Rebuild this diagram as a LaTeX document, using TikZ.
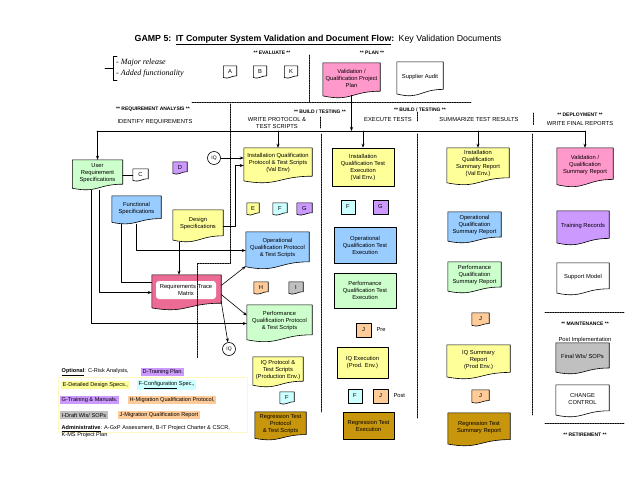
\documentclass[tikz,border=0pt]{standalone}
\usepackage{fontspec}
\setmainfont{Liberation Sans}
\newfontfamily\relfont{Liberation Serif}
\usetikzlibrary{calc,positioning,arrows.meta}

\definecolor{reqgreen}{HTML}{CCFFCC}
\definecolor{iqyellow}{HTML}{FFFF99}
\definecolor{oqblue}{HTML}{99CCFF}
\definecolor{planpink}{HTML}{FF99CC}
\definecolor{tracepink}{HTML}{EC6B94}
\definecolor{trainpurple}{HTML}{CC99FF}
\definecolor{cfgcyan}{HTML}{CCFFFF}
\definecolor{migorange}{HTML}{FFCC99}
\definecolor{draftgray}{HTML}{C0C0C0}
\definecolor{regbrown}{HTML}{C8960C}
\definecolor{keyframe}{HTML}{FFF8C0}

% document shape with a wavy bottom: name, centre, width, height, fill, text
\newcommand{\wavedoc}[6]{%
  \node[docframe, minimum width=#3pt, minimum height=#4pt] (#1) at (#2) {};
  \filldraw[fill=#5, docline] (#1.north west) -- (#1.north east)
    -- ($(#1.south east)+(0,-0.2*#4)$)
    .. controls ($(#1.south)+(0,-0.2*#4)$) and ($(#1.south)+(0,0.107*#4)$) .. ($(#1.south west)+(0,-0.066*#4)$)
    -- cycle;
  \node[doctext] (#1-txt) at ($(#1.center)+(0,-0.07*#4)$) {#6};
}

\begin{document}
\begin{tikzpicture}[
  x=1pt, y=-1pt,
  line cap=round, line join=round,
  >={Stealth[length=4pt,width=3pt]},
  every node/.style={font=\fontsize{5.8}{7}\selectfont, inner sep=1pt},
  docframe/.style={rectangle, draw=none, inner sep=0pt},
  docline/.style={draw=black, line width=0.6pt},
  doctext/.style={align=center, inner sep=0pt},
  stagebox/.style={draw=black, line width=0.6pt, align=center, inner sep=0pt},
  tagbox/.style={draw=black, line width=0.6pt, minimum width=14pt, minimum height=14pt, inner sep=0pt},
  circ/.style={circle, draw=black, line width=0.6pt, minimum size=13pt, inner sep=0pt, font=\fontsize{5}{6}\selectfont},
  tracebox/.style={fill=white, rounded corners=3pt, minimum width=60pt, minimum height=18pt, align=center, inner sep=0pt},
  phasehd/.style={font=\bfseries\fontsize{5}{6}\selectfont},
  phasesub/.style={font=\fontsize{5.8}{7.5}\selectfont, align=center},
  phase/.style={line width=0.6pt, dash pattern=on 1.5pt off 1pt},
  bus/.style={line width=0.8pt},
  flow/.style={->, line width=0.6pt},
  keyline/.style={anchor=west, inner sep=1.5pt, font=\fontsize{5.6}{7.5}\selectfont, align=left},
]
\useasboundingbox (0,0) rectangle (638,479);

% title and release notes
\node[font=\fontsize{8.8}{10}\selectfont] (title) at (318,40)
  {\textbf{GAMP 5:}\enspace\textbf{\underline{IT Computer System Validation and Document Flow}:}\enspace Key Validation Documents};
\draw[line width=0.6pt] (105,68) -- (113,68);
\draw[line width=0.6pt] (117,56) -- (113,56) -- (113,80) -- (117,80);
\node[anchor=west, align=left, inner sep=0pt, font=\relfont\itshape\fontsize{8}{11}\selectfont] (relnote) at (116,68.5)
  {- Major release\\- Added functionality};

% evaluate / plan
\node[phasehd] (evalhd) at (272,53) {** EVALUATE **};
\node[phasehd] (planhd) at (372,53) {** PLAN **};
\wavedoc{evalA}{230,72}{13}{12}{white}{A}
\wavedoc{evalB}{260,72}{13}{12}{white}{B}
\wavedoc{evalK}{291,72}{13}{12}{white}{K}
\wavedoc{vplan}{351.5,80.5}{57}{35}{planpink}{Validation /\\Qualification Project\\Plan}
\wavedoc{audit}{420,79}{46}{34}{white}{Supplier Audit}

% phase headers
\node[phasehd] (reqhd) at (153,109) {** REQUIREMENT ANALYSIS **};
\node[phasesub] (reqsub) at (155,122) {IDENTIFY REQUIREMENTS};
\node[phasehd] (buildhd) at (320,112) {** BUILD / TESTING **};
\node[phasesub] (writesub) at (277,123) {WRITE PROTOCOL \&\\TEST SCRIPTS};
\node[phasesub] (execsub) at (388,120) {EXECUTE TESTS};
\node[phasehd] (testhd) at (420,110) {** BUILD / TESTING **};
\node[phasesub] (sumsub) at (479,120) {SUMMARIZE TEST RESULTS};
\node[phasehd] (dephd) at (580,115) {** DEPLOYMENT **};
\node[phasesub] (depsub) at (580,124) {WRITE FINAL REPORTS};
\coordinate (busw) at (97,131);
\coordinate (buse) at (585,131);

% requirement analysis
\wavedoc{urs}{97.5,175}{50}{30}{reqgreen}{User\\Requirement\\Specifications}
\wavedoc{riskC}{140.5,175}{15}{12}{white}{C}
\wavedoc{trainD}{180,168}{14}{12}{trainpurple}{D}
\wavedoc{fs}{136.5,210}{49}{28}{oqblue}{Functional\\Specifications}
\wavedoc{ds}{198,226}{50}{32}{iqyellow}{Design\\Specifications}
\wavedoc{rtm}{186.5,292.5}{69}{35}{tracepink}{}
\node[tracebox] (rtmlabel) at (186,290) {Requirements Trace\\Matrix};
\node[circ] (iqa) at (214,158) {IQ};
\node[circ] (iqb) at (229,349) {IQ};

% write protocol & test scripts
\wavedoc{iqp}{278,165.5}{68}{35}{iqyellow}{Installation Qualification\\Protocol \& Test Scripts\\(Val Env)}
\wavedoc{dsgE}{253,209}{12}{12}{iqyellow}{E}
\wavedoc{cfgF}{280,209}{14}{12}{cfgcyan}{F}
\wavedoc{manG}{304.5,209}{15}{12}{trainpurple}{G}
\wavedoc{oqp}{277.5,250.5}{63}{37}{oqblue}{Operational\\Qualification Protocol\\\& Test Scripts}
\wavedoc{migH}{261,288}{14}{12}{migorange}{H}
\wavedoc{draftI}{296,288}{14}{12}{draftgray}{I}
\wavedoc{pqp}{279.5,323.5}{65}{37}{reqgreen}{Performance\\Qualification Protocol\\\& Test Scripts}
\wavedoc{iqpp}{278,372}{50}{30}{iqyellow}{IQ Protocol \&\\Test Scripts\\(Production Env.)}
\wavedoc{prodF}{287,398}{14}{12}{cfgcyan}{F}
\wavedoc{rtp}{280.5,426}{51}{28}{regbrown}{Regression Test\\Protocol\\\& Test Scripts}

% execute tests
\node[stagebox, fill=iqyellow, minimum width=62pt, minimum height=38pt] (iqe) at (363,167) {Installation\\Qualification Test\\Execution\\(Val Env.)};
\node[tagbox, fill=cfgcyan] (execF) at (348,207) {F};
\node[tagbox, fill=trainpurple, minimum width=15pt] (execG) at (380.5,207) {G};
\node[stagebox, fill=oqblue, minimum width=62pt, minimum height=36pt] (oqe) at (365,245) {Operational\\Qualification Test\\Execution};
\node[stagebox, fill=reqgreen, minimum width=62pt, minimum height=35pt] (pqe) at (365,290.5) {Performance\\Qualification Test\\Execution};
\node[tagbox, fill=migorange, minimum width=15pt] (preJ) at (363.5,330) {J};
\node[right=4pt of preJ] (pretxt) {Pre};
\node[stagebox, fill=iqyellow, minimum width=51pt, minimum height=31pt] (iqep) at (362.5,362.5) {IQ Execution\\(Prod. Env.)};
\node[tagbox, fill=cfgcyan] (postF) at (355,396) {F};
\node[tagbox, fill=migorange, minimum width=15pt] (postJ) at (380.5,396) {J};
\node[right=4pt of postJ] (posttxt) {Post};
\node[stagebox, fill=regbrown, minimum width=51pt, minimum height=27pt] (rte) at (368.5,425.5) {Regression Test\\Execution};

% summarize test results
\wavedoc{iqs}{478,166.5}{62}{37}{iqyellow}{Installation\\Qualification\\Summary Report\\(Val Env.)}
\wavedoc{oqs}{474.5,227.5}{53}{31}{oqblue}{Operational\\Qualification\\Summary Report}
\wavedoc{pqs}{474.5,277.5}{53}{31}{reqgreen}{Performance\\Qualification\\Summary Report}
\wavedoc{sumJ}{480.5,319.5}{17}{13}{migorange}{J}
\wavedoc{iqsp}{478.5,362}{63}{34}{iqyellow}{IQ Summary\\Report\\(Prod Env.)}
\wavedoc{prodJ}{480.5,396.5}{17}{13}{migorange}{J}
\wavedoc{rts}{479,429.5}{62}{33}{regbrown}{Regression Test\\Summary Report}

% deployment, maintenance, retirement
\wavedoc{vqs}{585,167.5}{56}{39}{planpink}{Validation /\\Qualification\\Summary Report}
\wavedoc{trec}{583,228}{52}{34}{trainpurple}{Training Records}
\wavedoc{supm}{583,279}{52}{32}{white}{Support Model}
\node[phasehd] (mainthd) at (585,324) {** MAINTENANCE **};
\node (postimp) at (585,340) {Post Implementation};
\wavedoc{fwis}{582.5,358.5}{53}{31}{draftgray}{Final WIs/ SOPs}
\wavedoc{chg}{582.5,401}{53}{32}{white}{CHANGE\\CONTROL}
\node[phasehd] (rethd) at (585,435) {** RETIREMENT **};

% connectors
\draw[bus] (busw) -- (buse);
\draw[flow] ([yshift=3pt]vplan.south) -- (vplan.south |- busw);
\foreach \d in {urs,iqp,iqe,iqs,vqs}
  \draw[flow] (\d.north |- busw) -- (\d.north);
\draw[line width=0.6pt] (urs.east) -- (riskC.west);
\draw[flow] (iqa) -- (iqa -| iqp.west);
\draw[flow] (ds.east) -- ++(12,0) |- (iqp.west);
\draw[flow] ([xshift=-6.5pt]urs.south) |- (pqp.west);
\draw[flow] ([xshift=1.5pt]urs.south) |- (rtm.west);
\draw[line width=0.6pt] ([xshift=-15.5pt]fs.south) |- ([yshift=10pt]rtm.west);
\draw[flow] (fs.south) |- (oqp.west);
\draw[flow] ([xshift=-19pt]ds.south) -- ([xshift=-19pt]ds.south |- rtm.north);
\draw[flow] ([yshift=7pt]rtm.east) -- ([yshift=3pt]oqp.south west);
\draw[flow] ([yshift=-2pt]rtm.east) -- ([yshift=8pt]pqp.west);
\draw[flow] ([yshift=-9pt]rtm.east) -- (iqb);

% phase separators
\draw[phase] (309,55) -- (309,102);
\draw[phase] (192,102) -- (471,102);
\draw[phase] (230,104) -- (230,263) -- (197,263) -- (197,358);
\draw[phase] (320,117) -- (320,128);
\draw[phase] (417,112) -- (417,122);
\draw[phase] (533,113) -- (533,125);
\draw[phase] (321,134) -- (321,412);
\draw[phase] (417,134) -- (417,418);
\draw[phase] (532,134) -- (532,415);
\draw[phase] (545,312) -- (625,312);
\draw[phase] (545,423) -- (625,423);

% key
\draw[draw=keyframe, line width=0.6pt] (58,377) rectangle (247,432);
\node[keyline] (keyopt) at (60,372) {\underline{\textbf{Optional}}: C-Risk Analysis,};
\node[keyline, fill=trainpurple] (keyD) at (141,372) {D-Training Plan.};
\node[keyline, fill=iqyellow] (keyE) at (61,385) {E-Detailed Design Specs.,};
\node[keyline, fill=cfgcyan] (keyF) at (137,385) {F-\underline{Configuration} Spec.,};
\node[keyline, fill=trainpurple] (keyG) at (60,400) {G-Training \& Manuals.};
\node[keyline, fill=migorange] (keyH) at (128,400) {H-Migration Qualification Protocol,};
\node[keyline, fill=draftgray] (keyI) at (60,415) {I-Draft WIs/ SOPs};
\node[keyline, fill=migorange] (keyJ) at (118,415) {J-Migration Qualification Report};
\node[keyline, font=\fontsize{5.6}{7}\selectfont] (keyadm) at (60,432) {\underline{\textbf{Administrative}}: A-GxP Assessment, B-IT Project Charter \& CSCR,\\K-MS Project Plan};
\end{tikzpicture}
\end{document}
